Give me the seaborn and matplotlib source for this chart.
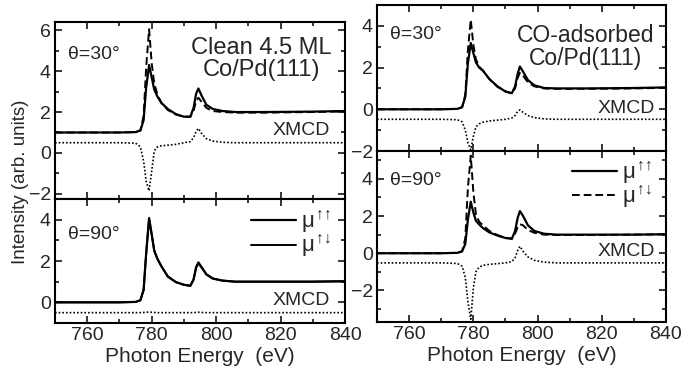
import matplotlib
matplotlib.use("Agg")
import matplotlib.pyplot as plt
import seaborn as sns
from matplotlib.ticker import MultipleLocator

# photon energy grid (eV) shared by all spectra
energy = [750, 760, 770, 775, 776.5, 777.5, 778.3, 779.2, 780.0, 780.8, 781.8,
          783, 785, 787.5, 790, 792, 793, 793.8, 794.5, 795.5, 797, 799,
          802, 806, 815, 830, 840]

# clean 4.5 ML Co/Pd(111), theta = 30 deg
clean30_pp = [1.0, 1.0, 1.0, 1.02, 1.1, 1.6, 3.2, 4.3, 3.7, 3.1, 2.75,
              2.45, 2.15, 1.9, 1.77, 1.78, 2.2, 2.9, 3.15, 2.8, 2.35, 2.15,
              2.05, 2.0, 2.0, 2.02, 2.05]
clean30_pm = [1.0, 1.0, 1.0, 1.02, 1.1, 1.8, 4.2, 6.05, 4.4, 3.4, 2.85,
              2.45, 2.1, 1.88, 1.77, 1.76, 2.05, 2.55, 2.7, 2.5, 2.2, 2.05,
              2.0, 1.97, 1.97, 2.0, 2.03]
clean30_xmcd = [0.5, 0.5, 0.5, 0.48, 0.3, -0.4, -1.4, -1.85, -0.9, 0.1, 0.3,
                0.35, 0.38, 0.42, 0.5, 0.55, 0.75, 1.05, 1.2, 0.95, 0.7, 0.58,
                0.52, 0.5, 0.5, 0.5, 0.5]

# clean, theta = 90 deg
clean90_pp = [0.0, 0.0, 0.0, 0.02, 0.1, 0.6, 2.4, 4.08, 3.3, 2.5, 2.1,
              1.75, 1.25, 0.98, 0.85, 0.8, 1.1, 1.7, 1.93, 1.7, 1.35, 1.15,
              1.05, 1.0, 1.0, 1.0, 1.02]
clean90_pm = [0.0, 0.0, 0.0, 0.02, 0.1, 0.6, 2.35, 4.02, 3.28, 2.5, 2.1,
              1.75, 1.25, 0.98, 0.85, 0.8, 1.1, 1.68, 1.9, 1.68, 1.35, 1.15,
              1.05, 1.0, 1.0, 1.0, 1.02]
clean90_xmcd = [-0.5, -0.5, -0.5, -0.5, -0.5, -0.49, -0.48, -0.47, -0.48, -0.49, -0.5,
                -0.5, -0.5, -0.5, -0.5, -0.5, -0.5, -0.49, -0.48, -0.49, -0.5, -0.5,
                -0.5, -0.5, -0.5, -0.5, -0.5]

# CO-adsorbed Co/Pd(111), theta = 30 deg
co30_pp = [0.0, 0.0, 0.0, 0.02, 0.1, 0.6, 2.2, 3.18, 2.7, 2.25, 2.0,
           1.85, 1.45, 1.1, 0.85, 0.77, 1.1, 1.7, 2.05, 1.8, 1.4, 1.15,
           1.02, 1.0, 1.0, 1.02, 1.05]
co30_pm = [0.0, 0.0, 0.0, 0.02, 0.1, 0.7, 2.8, 4.3, 3.1, 2.4, 2.05,
           1.85, 1.45, 1.08, 0.86, 0.76, 1.0, 1.5, 1.75, 1.6, 1.3, 1.1,
           1.0, 0.98, 0.98, 1.0, 1.03]
co30_xmcd = [-0.48, -0.48, -0.48, -0.5, -0.6, -1.0, -1.6, -1.95, -1.3, -0.85, -0.7,
             -0.62, -0.56, -0.52, -0.48, -0.42, -0.3, -0.1, -0.03, -0.15, -0.3, -0.4,
             -0.46, -0.48, -0.48, -0.48, -0.48]

# CO-adsorbed, theta = 90 deg
co90_pp = [0.0, 0.0, 0.0, 0.02, 0.1, 0.5, 1.8, 2.77, 2.2, 1.75, 1.55,
           1.35, 1.12, 0.95, 0.82, 0.78, 1.2, 1.9, 2.27, 2.0, 1.5, 1.2,
           1.05, 1.0, 1.0, 1.0, 1.02]
co90_pm = [0.0, 0.0, 0.0, 0.02, 0.1, 0.8, 3.5, 5.25, 3.3, 2.1, 1.7,
           1.5, 1.2, 0.98, 0.83, 0.78, 1.05, 1.4, 1.56, 1.5, 1.25, 1.1,
           1.0, 0.98, 0.98, 1.0, 1.02]
co90_xmcd = [-0.52, -0.52, -0.52, -0.55, -0.7, -1.3, -2.6, -3.55, -1.9, -1.0, -0.75,
             -0.65, -0.6, -0.56, -0.52, -0.45, -0.25, 0.15, 0.37, 0.1, -0.2, -0.38,
             -0.48, -0.52, -0.52, -0.52, -0.52]

legend_labels = [r'$\mu^{\!\uparrow\!\!\uparrow}$',
                 r'$\mu^{\!\uparrow\!\!\downarrow}$']

sns.set_theme(style="ticks")
plt.rcParams['font.family'] = ['Liberation Sans', 'DejaVu Sans']
plt.rcParams['mathtext.fontset'] = 'custom'
plt.rcParams['mathtext.rm'] = 'Liberation Sans'
plt.rcParams['mathtext.it'] = 'Liberation Sans'

W, H = 681, 378
fig = plt.figure(figsize=(W / 100, H / 100), dpi=100)


def px_axes(x0, x1, y0, y1):
    # axes box from pixel edges (top-left origin)
    return fig.add_axes([x0 / W, 1 - y1 / H, (x1 - x0) / W, (y1 - y0) / H])


def style_axes(ax, ylim, show_x):
    ax.set_xlim(750, 840)
    ax.set_ylim(*ylim)
    ax.xaxis.set_major_locator(MultipleLocator(20))
    ax.xaxis.set_minor_locator(MultipleLocator(10))
    ax.yaxis.set_major_locator(MultipleLocator(2))
    ax.yaxis.set_minor_locator(MultipleLocator(1))
    ax.tick_params(which='both', direction='in', top=True, right=True,
                   color='black', width=1.1, labelsize=14, pad=3)
    ax.tick_params(which='major', length=5)
    ax.tick_params(which='minor', length=3)
    for s in ax.spines.values():
        s.set_linewidth(1.5)
        s.set_color('black')
    if not show_x:
        ax.tick_params(axis='x', labelbottom=False)
    else:
        ax.set_xlabel('Photon Energy  (eV)', fontsize=15, labelpad=2)
    ax.set_ylabel('')


def draw(ax, pp, pm, xmcd, pm_style, legend):
    sns.lineplot(x=energy, y=pp, ax=ax, color='black', linewidth=1.6,
                 label=legend_labels[0] if legend else None)
    sns.lineplot(x=energy, y=pm, ax=ax, color='black', linewidth=1.4,
                 linestyle=pm_style,
                 label=legend_labels[1] if legend else None)
    sns.lineplot(x=energy, y=xmcd, ax=ax, color='black', linewidth=1.2,
                 linestyle=(0, (1, 1.2)))
    if legend:
        ax.legend(loc='upper right', bbox_to_anchor=(1.0, 1.03), frameon=False,
                  fontsize=16, handlelength=2.0, handletextpad=0.25,
                  labelspacing=-0.1, borderaxespad=0.2)
    elif ax.get_legend() is not None:
        ax.get_legend().remove()


# left column: clean film
ax1 = px_axes(55, 345, 22, 199)
ax2 = px_axes(55, 345, 199, 323)
draw(ax1, clean30_pp, clean30_pm, clean30_xmcd, (0, (4, 2)), False)
draw(ax2, clean90_pp, clean90_pm, clean90_xmcd, '-', True)
style_axes(ax1, (-2.25, 6.4), False)
style_axes(ax2, (-1.0, 5.0), True)

ax1.text(754, 4.8, 'θ=30°', fontsize=14, va='center', ha='left')
ax1.text(814, 4.6, 'Clean 4.5 ML\nCo/Pd(111)', fontsize=17, va='center',
         ha='center', linespacing=1.0)
ax1.text(835.3, 1.12, 'XMCD', fontsize=14, va='center', ha='right')
ax2.text(754, 3.3, 'θ=90°', fontsize=14, va='center', ha='left')
ax2.text(835.3, 0.1, 'XMCD', fontsize=14, va='center', ha='right')

# right column: CO-adsorbed film
ax3 = px_axes(377, 666, 5, 151)
ax4 = px_axes(377, 666, 151, 322)
draw(ax3, co30_pp, co30_pm, co30_xmcd, (0, (4, 2)), False)
draw(ax4, co90_pp, co90_pm, co90_xmcd, (0, (4, 2)), True)
style_axes(ax3, (-2.0, 5.0), False)
style_axes(ax4, (-3.7, 5.5), True)

ax3.text(754, 3.6, 'θ=30°', fontsize=14, va='center', ha='left')
ax3.text(815, 2.98, 'CO-adsorbed\nCo/Pd(111)', fontsize=16.5, va='center',
         ha='center', linespacing=1.0)
ax3.text(836.5, 0.05, 'XMCD', fontsize=14, va='center', ha='right')
ax4.text(754, 3.9, 'θ=90°', fontsize=14, va='center', ha='left')
ax4.text(836.5, 0.1, 'XMCD', fontsize=14, va='center', ha='right')

fig.text(0.03, 1 - 182 / H, 'Intensity (arb. units)', rotation=90,
         fontsize=13.5, ha='center', va='center')

fig.savefig('out.png', dpi=100)
